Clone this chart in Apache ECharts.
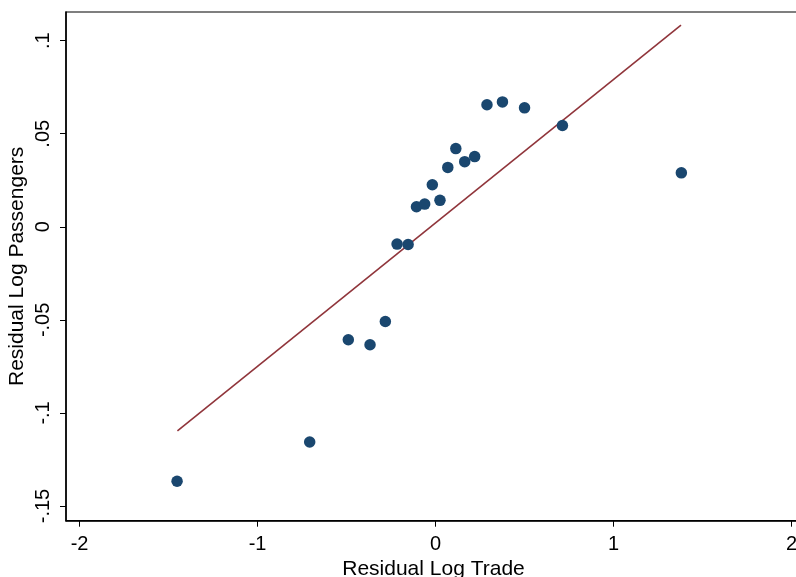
<!DOCTYPE html>
<html>
<head>
<meta charset="utf-8">
<script src="https://cdn.jsdelivr.net/npm/echarts@6/dist/echarts.min.js"></script>
<style>html,body{margin:0;padding:0;background:#fff}#c{width:796px;height:577px}</style>
</head>
<body>
<div id="c"></div>
<script>
var tradeResid = [-1.452, -0.707, -0.490, -0.368, -0.282, -0.216, -0.154, -0.107, -0.061, -0.018, 0.025, 0.069, 0.114, 0.164, 0.220, 0.289, 0.376, 0.500, 0.713, 1.381];
var passResid = [-0.1367, -0.1156, -0.0607, -0.0634, -0.0509, -0.0093, -0.0095, 0.0108, 0.0122, 0.0226, 0.0142, 0.0319, 0.0420, 0.0350, 0.0377, 0.0656, 0.0671, 0.0639, 0.0544, 0.0290];
var fitX = [-1.450, 1.379];
var fitY = [-0.1097, 0.1083];
var xTicks = [-2, -1, 0, 1, 2];
var yTicks = [-0.15, -0.1, -0.05, 0, 0.05, 0.1];
var yTickLabels = ['-.15', '-.1', '-.05', '0', '.05', '.1'];

var font = '"Liberation Sans", Arial, sans-serif';
var pts = tradeResid.map(function (v, i) { return [v, passResid[i]]; });
var fit = fitX.map(function (v, i) { return [v, fitY[i]]; });

var chart = echarts.init(document.getElementById('c'));
chart.setOption({
  animation: false,
  grid: { left: 66, top: 12, width: 735, height: 508.7, show: true, borderColor: '#000', borderWidth: 1.2, backgroundColor: '#fff', containLabel: false, outerBoundsMode: 'none' },
  xAxis: {
    type: 'value', min: -2.076, max: -2.076 + 735 / 178,
    interval: 1,
    axisLine: { show: true, onZero: false, lineStyle: { color: '#000', width: 1.5 } },
    axisTick: { show: true, length: 6, lineStyle: { color: '#000' }, customValues: xTicks },
    axisLabel: { fontFamily: font, fontSize: 20, color: '#000', margin: 14, customValues: xTicks, formatter: function (v) { return String(v); } },
    splitLine: { show: false },
    name: 'Residual Log Trade', nameLocation: 'middle', nameGap: 38, nameMoveOverlap: false,
    nameTextStyle: { fontFamily: font, fontSize: 21, color: '#000' }
  },
  yAxis: {
    type: 'value', min: -0.1579, max: 0.1154,
    axisLine: { show: true, onZero: false, lineStyle: { color: '#000', width: 1.5 } },
    axisTick: { show: true, length: 6, lineStyle: { color: '#000' }, customValues: yTicks },
    axisLabel: { fontFamily: font, fontSize: 20, color: '#000', rotate: 90, margin: 13, customValues: yTicks,
      formatter: function (v) { var i = yTicks.findIndex(function (t) { return Math.abs(t - v) < 1e-9; }); return i >= 0 ? yTickLabels[i] : ''; } },
    splitLine: { show: false },
    name: 'Residual Log Passengers', nameLocation: 'middle', nameGap: 38, nameMoveOverlap: false,
    nameTextStyle: { fontFamily: font, fontSize: 21, color: '#000' }
  },
  series: [
    { type: 'scatter', data: pts, symbol: 'circle', symbolSize: 11.5, itemStyle: { color: '#1a476f', opacity: 1 }, z: 3 },
    { type: 'line', data: fit, showSymbol: false, symbol: 'none', lineStyle: { color: '#90353b', width: 1.6 }, z: 2 }
  ]
});
</script>
</body>
</html>
